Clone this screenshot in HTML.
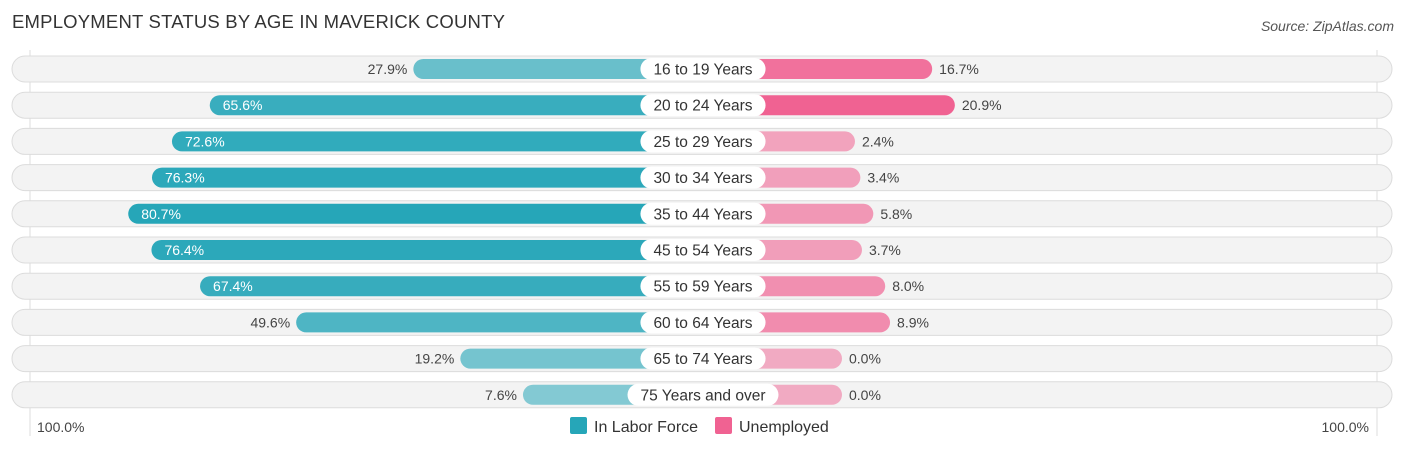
<!DOCTYPE html>
<html><head><meta charset="utf-8"><style>
body{margin:0;background:#fff;font-family:"Liberation Sans",Arial,sans-serif;}
svg text{font-family:"Liberation Sans",Arial,sans-serif;}
</style></head><body>
<svg id="c" width="1406" height="451" xmlns="http://www.w3.org/2000/svg">
<text x="12" y="28" font-size="18.5" letter-spacing="0.2" fill="#333">EMPLOYMENT STATUS BY AGE IN MAVERICK COUNTY</text>
<text x="1394" y="31" font-size="14" fill="#555" font-style="italic" text-anchor="end">Source: ZipAtlas.com</text>
<line x1="30" y1="50" x2="30" y2="436" stroke="#ddd"/>
<line x1="1377" y1="50" x2="1377" y2="436" stroke="#ddd"/>
<g id="rows"></g>
<text x="37" y="432" font-size="14" fill="#444">100.0%</text>
<text x="1369" y="432" font-size="14" fill="#444" text-anchor="end">100.0%</text>
<rect x="570" y="417" width="17" height="17" rx="2" fill="#26a6b8"/>
<text x="594" y="432" font-size="16" fill="#333">In Labor Force</text>
<rect x="715" y="417" width="17" height="17" rx="2" fill="#f06292"/>
<text x="739" y="432" font-size="16" fill="#333">Unemployed</text>
</svg>
<script>
const categories=["16 to 19 Years","20 to 24 Years","25 to 29 Years","30 to 34 Years","35 to 44 Years","45 to 54 Years","55 to 59 Years","60 to 64 Years","65 to 74 Years","75 Years and over"];
const laborForce=[27.9,65.6,72.6,76.3,80.7,76.4,67.4,49.6,19.2,7.6];
const unemployed=[16.7,20.9,2.4,3.4,5.8,3.7,8.0,8.9,0.0,0.0];
const NS="http://www.w3.org/2000/svg";
const cx=703, y0=69, step=36.2;
function len(v){return 139+5.4*v;}
function yRow(i){return y0+i*step;}
const g=document.getElementById('rows');
function mk(tag,attrs){const e=document.createElementNS(NS,tag);for(const k in attrs)e.setAttribute(k,attrs[k]);return e;}
const maxL=Math.max(...laborForce), maxU=Math.max(...unemployed);
categories.forEach((cat,i)=>{
  const y=yRow(i);
  const bg=mk('rect',{x:12,y:y-13,width:1380,height:26,rx:13,fill:'#f3f3f3',stroke:'#dcdcdc'});
  
  
  g.appendChild(bg);
  const lv=laborForce[i], lw=len(lv);
  const lb=mk('rect',{x:cx-lw,y:y-10,width:lw,height:20,rx:10,fill:'#26a6b8','fill-opacity':0.5+0.5*lv/maxL});
  
  
  g.appendChild(lb);
  const uv=unemployed[i], uw=len(uv);
  const ub=mk('rect',{x:cx,y:y-10,width:uw,height:20,rx:10,fill:'#f06292','fill-opacity':0.5+0.5*uv/maxU});
  
  
  g.appendChild(ub);
  const inside=lv>60;
  const lt=mk('text',{x:inside?cx-lw+13:cx-lw-6,y:y+5,'font-size':14,fill:inside?'#fff':'#444','text-anchor':inside?'start':'end'});
  lt.textContent=lv.toFixed(1)+'%';
  
  
  g.appendChild(lt);
  const ut=mk('text',{x:cx+uw+7,y:y+5,'font-size':14,fill:'#444'});
  ut.textContent=uv.toFixed(1)+'%';
  
  
  g.appendChild(ut);
  const lab=mk('text',{x:cx,y:y+5.5,'font-size':15.5,fill:'#333','text-anchor':'middle'});
  lab.textContent=cat;
  g.appendChild(lab);
  const w=lab.getComputedTextLength()+26;
  const pill=mk('rect',{x:cx-w/2,y:y-11,width:w,height:22,rx:11,fill:'#fff'});
  
  
  g.insertBefore(pill,lab);
  
  
});
</script>
</body></html>
